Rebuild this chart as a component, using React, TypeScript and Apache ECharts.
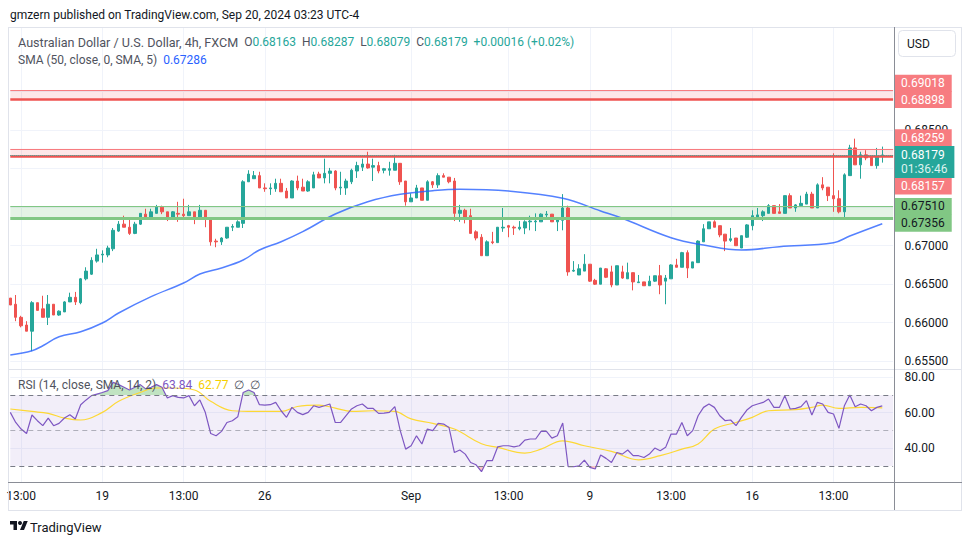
import React, { useEffect, useRef } from "react";
import * as echarts from "echarts";

// ---------- data ----------
const opens = [
  0.6632, 0.6624, 0.6607, 0.6597, 0.6589, 0.6626, 0.6618, 0.6607, 0.6624, 0.6610,
  0.6614, 0.6627, 0.6633, 0.6626, 0.6657, 0.6663, 0.6680, 0.6688, 0.6688, 0.6696,
  0.6719, 0.6728, 0.6724, 0.6716, 0.6728, 0.6741, 0.6736, 0.6742, 0.6750, 0.6744,
  0.6736, 0.6742, 0.6741, 0.6739, 0.6744, 0.6735, 0.6746, 0.6735, 0.6706, 0.6705,
  0.6710, 0.6724, 0.6724, 0.6729, 0.6783, 0.6787, 0.6791, 0.6775, 0.6774, 0.6774,
  0.6781, 0.6771, 0.6762, 0.6784, 0.6776, 0.6771, 0.6775, 0.6793, 0.6788, 0.6794,
  0.6797, 0.6775, 0.6775, 0.6783, 0.6797, 0.6802, 0.6806, 0.6802, 0.6804, 0.6798,
  0.6798, 0.6798, 0.6807, 0.6784, 0.6757, 0.6762, 0.6775, 0.6759, 0.6783, 0.6779,
  0.6791, 0.6789, 0.6784, 0.6742, 0.6746, 0.6739, 0.6718, 0.6711, 0.6687, 0.6705,
  0.6704, 0.6723, 0.6726, 0.6724, 0.6722, 0.6723, 0.6731, 0.6731, 0.6731, 0.6740,
  0.6741, 0.6731, 0.6733, 0.6749, 0.6667, 0.6662, 0.6667, 0.6676, 0.6655, 0.6650,
  0.6670, 0.6666, 0.6649, 0.6666, 0.6657, 0.6665, 0.6652, 0.6653, 0.6648, 0.6654,
  0.6661, 0.6654, 0.6657, 0.6675, 0.6672, 0.6691, 0.6671, 0.6678, 0.6705, 0.6722,
  0.6731, 0.6726, 0.6715, 0.6707, 0.6710, 0.6697, 0.6711, 0.6726, 0.6737, 0.6739,
  0.6742, 0.6752, 0.6744, 0.6742, 0.6765, 0.6749, 0.6752, 0.6754, 0.6767, 0.6749,
  0.6779, 0.6776, 0.6765, 0.6761, 0.6744, 0.6791, 0.6827, 0.6805, 0.6818, 0.6815,
  0.6804, 0.68163,
];
const closes = [
  0.6623, 0.6607, 0.6596, 0.6589, 0.6626, 0.6616, 0.6607, 0.6624, 0.6610, 0.6615,
  0.6627, 0.6633, 0.6627, 0.6657, 0.6667, 0.6681, 0.6688, 0.6689, 0.6697, 0.6720,
  0.6728, 0.6724, 0.6716, 0.6728, 0.6742, 0.6736, 0.6744, 0.6750, 0.6744, 0.6736,
  0.6744, 0.6741, 0.6739, 0.6744, 0.6735, 0.6746, 0.6735, 0.6705, 0.6705, 0.6710,
  0.6724, 0.6725, 0.6731, 0.6783, 0.6793, 0.6791, 0.6775, 0.6774, 0.6775, 0.6781,
  0.6770, 0.6762, 0.6784, 0.6775, 0.6771, 0.6783, 0.6792, 0.6788, 0.6794, 0.6797,
  0.6775, 0.6776, 0.6784, 0.6798, 0.6804, 0.6806, 0.6801, 0.6804, 0.6797, 0.6800,
  0.6800, 0.6807, 0.6783, 0.6757, 0.6762, 0.6775, 0.6759, 0.6783, 0.6779, 0.6791,
  0.6789, 0.6783, 0.6742, 0.6746, 0.6737, 0.6716, 0.6710, 0.6687, 0.6705, 0.6704,
  0.6724, 0.6724, 0.6724, 0.6723, 0.6724, 0.6731, 0.6732, 0.6732, 0.6741, 0.6741,
  0.6731, 0.6736, 0.6749, 0.6666, 0.6668, 0.6670, 0.6676, 0.6654, 0.6650, 0.6671,
  0.6659, 0.6649, 0.6674, 0.6658, 0.6665, 0.6653, 0.6653, 0.6648, 0.6654, 0.6661,
  0.6649, 0.6658, 0.6675, 0.6672, 0.6691, 0.6671, 0.6679, 0.6706, 0.6722, 0.6731,
  0.6724, 0.6714, 0.6706, 0.6709, 0.6700, 0.6713, 0.6727, 0.6739, 0.6740, 0.6744,
  0.6752, 0.6742, 0.6742, 0.6765, 0.6749, 0.6753, 0.6755, 0.6767, 0.6749, 0.6779,
  0.6775, 0.6765, 0.6761, 0.6744, 0.6792, 0.6827, 0.6805, 0.6818, 0.6814, 0.6804,
  0.6816, 0.68179,
];
const lows = [
  0.6623, 0.6602, 0.6594, 0.6589, 0.6563, 0.6616, 0.6607, 0.6597, 0.6610, 0.6609,
  0.6614, 0.6627, 0.6623, 0.6624, 0.6655, 0.6662, 0.6678, 0.6678, 0.6685, 0.6693,
  0.6718, 0.6724, 0.6714, 0.6715, 0.6727, 0.6736, 0.6735, 0.6742, 0.6741, 0.6732,
  0.6735, 0.6731, 0.6737, 0.6739, 0.6728, 0.6735, 0.6724, 0.6700, 0.6698, 0.6701,
  0.6709, 0.6719, 0.6724, 0.6723, 0.6783, 0.6787, 0.6775, 0.6770, 0.6766, 0.6770,
  0.6770, 0.6762, 0.6762, 0.6772, 0.6771, 0.6770, 0.6775, 0.6788, 0.6781, 0.6781,
  0.6772, 0.6766, 0.6766, 0.6780, 0.6788, 0.6797, 0.6800, 0.6784, 0.6794, 0.6794,
  0.6791, 0.6798, 0.6779, 0.6752, 0.6757, 0.6762, 0.6759, 0.6759, 0.6775, 0.6775,
  0.6789, 0.6781, 0.6732, 0.6731, 0.6729, 0.6716, 0.6707, 0.6687, 0.6687, 0.6702,
  0.6704, 0.6718, 0.6711, 0.6714, 0.6720, 0.6715, 0.6720, 0.6719, 0.6731, 0.6736,
  0.6731, 0.6719, 0.6720, 0.6661, 0.6666, 0.6662, 0.6667, 0.6653, 0.6649, 0.6650,
  0.6658, 0.6646, 0.6649, 0.6657, 0.6657, 0.6642, 0.6652, 0.6648, 0.6648, 0.6653,
  0.6637, 0.6624, 0.6657, 0.6672, 0.6672, 0.6658, 0.6671, 0.6678, 0.6705, 0.6722,
  0.6724, 0.6711, 0.6693, 0.6705, 0.6700, 0.6697, 0.6710, 0.6720, 0.6736, 0.6732,
  0.6742, 0.6742, 0.6742, 0.6742, 0.6749, 0.6744, 0.6752, 0.6754, 0.6749, 0.6749,
  0.6772, 0.6758, 0.6744, 0.6742, 0.6737, 0.6791, 0.6805, 0.6787, 0.6811, 0.6804,
  0.6800, 0.68079,
];
const highs = [
  0.6632, 0.6636, 0.6609, 0.6602, 0.6628, 0.6626, 0.6635, 0.6636, 0.6624, 0.6616,
  0.6628, 0.6639, 0.6640, 0.6658, 0.6672, 0.6685, 0.6696, 0.6694, 0.6700, 0.6723,
  0.6732, 0.6739, 0.6736, 0.6731, 0.6742, 0.6748, 0.6748, 0.6753, 0.6752, 0.6744,
  0.6745, 0.6757, 0.6761, 0.6753, 0.6744, 0.6753, 0.6746, 0.6735, 0.6709, 0.6711,
  0.6724, 0.6728, 0.6733, 0.6785, 0.6798, 0.6797, 0.6796, 0.6781, 0.6781, 0.6787,
  0.6787, 0.6775, 0.6785, 0.6791, 0.6787, 0.6785, 0.6796, 0.6796, 0.6813, 0.6801,
  0.6798, 0.6796, 0.6787, 0.6800, 0.6809, 0.6813, 0.6822, 0.6813, 0.6809, 0.6801,
  0.6809, 0.6818, 0.6807, 0.6784, 0.6768, 0.6779, 0.6775, 0.6785, 0.6784, 0.6794,
  0.6794, 0.6789, 0.6788, 0.6753, 0.6748, 0.6748, 0.6720, 0.6715, 0.6707, 0.6718,
  0.6724, 0.6749, 0.6727, 0.6726, 0.6732, 0.6733, 0.6739, 0.6742, 0.6742, 0.6745,
  0.6741, 0.6737, 0.6767, 0.6752, 0.6680, 0.6676, 0.6689, 0.6676, 0.6657, 0.6671,
  0.6671, 0.6674, 0.6674, 0.6674, 0.6678, 0.6665, 0.6662, 0.6653, 0.6661, 0.6661,
  0.6675, 0.6662, 0.6676, 0.6683, 0.6692, 0.6694, 0.6679, 0.6707, 0.6728, 0.6731,
  0.6733, 0.6726, 0.6715, 0.6723, 0.6710, 0.6713, 0.6728, 0.6746, 0.6749, 0.6746,
  0.6754, 0.6752, 0.6754, 0.6765, 0.6768, 0.6754, 0.6765, 0.6770, 0.6770, 0.6781,
  0.6789, 0.6776, 0.6820, 0.6772, 0.6794, 0.6831, 0.6839, 0.6822, 0.6824, 0.6816,
  0.6827, 0.68287,
];
const rsi = [
  60.2, 54.5, 50.8, 48.3, 58.7, 55.5, 52.7, 57.0, 52.7, 54.0,
  57.0, 58.9, 56.5, 64.5, 67.2, 69.6, 70.5, 71.4, 72.4, 77.1,
  75.8, 74.3, 72.8, 74.3, 75.8, 73.4, 74.3, 75.8, 74.3, 68.3,
  69.6, 68.6, 68.3, 69.6, 63.9, 67.2, 60.2, 48.3, 47.0, 49.5,
  54.5, 55.5, 57.7, 71.4, 72.8, 71.4, 64.5, 64.3, 64.5, 65.8,
  61.1, 57.4, 63.0, 60.2, 58.9, 60.2, 63.9, 63.0, 63.9, 64.9,
  54.5, 54.5, 58.3, 62.1, 63.9, 64.9, 62.4, 62.4, 59.6, 59.8,
  60.2, 63.4, 49.9, 39.5, 41.4, 47.0, 42.4, 50.8, 49.9, 54.0,
  53.6, 51.7, 37.6, 39.0, 36.7, 32.0, 30.7, 26.8, 33.0, 33.0,
  40.8, 41.4, 41.4, 40.8, 41.4, 44.6, 45.2, 45.2, 49.5, 49.5,
  45.7, 47.0, 54.2, 29.6, 29.6, 30.1, 33.3, 29.2, 28.3, 36.2,
  34.3, 32.0, 37.6, 36.7, 39.0, 35.8, 35.8, 34.8, 36.7, 40.1,
  38.6, 40.5, 48.0, 48.0, 54.5, 47.0, 49.9, 58.3, 63.0, 64.9,
  63.0, 58.3, 55.5, 55.9, 52.7, 57.4, 61.5, 63.9, 64.9, 65.8,
  67.7, 63.0, 63.0, 69.6, 62.1, 62.4, 63.4, 66.8, 58.7, 65.8,
  64.9, 60.2, 59.3, 51.2, 63.9, 70.0, 63.4, 64.9, 63.9, 61.1,
  63.0, 63.84,
];
// SMA(50) read at sample bars
const smaIdx = [0, 4, 6, 9, 13, 17, 20, 26, 32, 35, 39, 43, 46, 50, 54, 60, 66, 72, 78, 83, 92, 102, 109, 113, 122, 128, 135, 142, 152, 155, 161];
const smaVal = [0.65581, 0.65636, 0.65701, 0.65818, 0.65883, 0.65996, 0.66126, 0.66338, 0.66516, 0.66632, 0.6671, 0.66814, 0.66944, 0.67052, 0.67182, 0.67412, 0.67571, 0.67668, 0.67714, 0.67732, 0.6771, 0.67616, 0.67451, 0.67356, 0.67104, 0.67009, 0.66944, 0.66987, 0.67039, 0.67126, 0.67286];
// RSI-based MA read at sample bars
const rsiMaIdx = [0, 4, 7, 10, 13, 17, 20, 24, 27, 30, 34, 37, 41, 45, 50, 53, 57, 60, 63, 67, 71, 74, 78, 82, 87, 90, 95, 98, 102, 106, 111, 116, 120, 124, 127, 130, 134, 137, 140, 145, 148, 150, 153, 157, 161];
const rsiMaVal = [62.1, 60.7, 59.6, 57.0, 55.9, 60.2, 66.4, 71.4, 73.9, 73.9, 72.8, 66.4, 61.1, 60.7, 60.7, 63.5, 64.3, 62.6, 60.7, 61.1, 60.7, 56.5, 54.0, 50.8, 42.5, 40.5, 37.3, 39.5, 44.2, 41.4, 38.2, 33.5, 35.8, 39.5, 42.4, 50.8, 54.5, 57.4, 61.1, 61.7, 63.0, 64.3, 62.4, 63.0, 62.77];

const xLabelIdx = [2, 17, 32, 47, 74, 92, 107, 122, 137, 152];
const xLabelText = ["13:00", "19", "13:00", "26", "Sep", "13:00", "9", "13:00", "16", "13:00"];
const priceGridTicks = [0.655, 0.66, 0.665, 0.67, 0.675, 0.68, 0.685, 0.69];
const priceLabelTicks = [0.655, 0.66, 0.665, 0.67, 0.685];
const rsiTicks = [40, 60, 80];

const zoneRedTop = [0.69018, 0.68898];
const zoneRedMid = [0.68259, 0.68157];
const zoneGreen = [0.6751, 0.67356];
const lastPrice = 0.68179;
const countdown = "01:36:46";
const rsiLevels = [70, 50, 30];

const headerText = "gmzern published on TradingView.com, Sep 20, 2024 03:23 UTC-4";
const symbolTitle = "Australian Dollar / U.S. Dollar, 4h, FXCM";
const ohlcText = { O: "0.68163", H: "0.68287", L: "0.68079", C: "0.68179", chg: "+0.00016 (+0.02%)" };
const smaTitle = "SMA (50, close, 0, SMA, 5)";
const smaLast = "0.67286";
const rsiTitle = "RSI (14, close, SMA, 14, 2)";
const rsiLast = "63.84";
const rsiMaLast = "62.77";

const N_SLOTS = 164;

const UP = "#26A69A";
const DOWN = "#EF5350";
const FONT = "Roboto, 'Noto Sans', sans-serif";

export default function App() {
  const ref = useRef<HTMLDivElement>(null);
  useEffect(() => {
    if (!ref.current) return;
    try {
      echarts.graphic.registerShape(
        "tvlogo",
        echarts.graphic.extendPath("M14 22H7V11H0V4h14v18zM28 22h-8l7.5-18h8L28 22z", {})
      );
    } catch (e) {}
    const chart = echarts.init(ref.current, null, { renderer: "svg" });

    const cats = Array.from({ length: N_SLOTS }, (_, i) => String(i));
    const candles = opens.map((o, i) => [o, closes[i], lows[i], highs[i]]);
    const sma = smaIdx.map((x, i) => [x, smaVal[i]]);
    const rsiMa = rsiMaIdx.map((x, i) => [x, rsiMaVal[i]]);

    const tagLabel = (text: string, bg: string, fg: string, dy: number) => ({
      show: true,
      position: "end",
      distance: 1,
      offset: [0, dy],
      formatter: text,
      backgroundColor: bg,
      color: fg,
      padding: [2, 7, 2, 7],
      lineHeight: 13,
      fontSize: 12,
      fontFamily: FONT,
    });

    const isLabelIdx = (i: number) => xLabelIdx.indexOf(i) >= 0;

    const option: any = {
      animation: false,
      backgroundColor: "#ffffff",
      textStyle: { fontFamily: FONT },
      grid: [
        { left: 10.3, top: 28, width: 882.8, height: 341 },
        { left: 10.3, top: 369, width: 882.8, height: 113 },
      ],
      xAxis: [
        {
          type: "category", gridIndex: 0, data: cats, boundaryGap: false,
          axisLine: { show: false }, axisTick: { show: false }, axisLabel: { show: false },
          splitLine: { show: true, interval: (i: number) => isLabelIdx(i), lineStyle: { color: "#F0F3FA", width: 1 } },
        },
        {
          type: "category", gridIndex: 1, data: cats, boundaryGap: false,
          axisLine: { show: false }, axisTick: { show: false },
          axisLabel: {
            show: true, interval: (i: number) => isLabelIdx(i),
            formatter: (_v: string, i: number) => xLabelText[xLabelIdx.indexOf(i)] ?? "",
            color: "#131722", fontSize: 12, margin: 8, fontFamily: FONT,
          },
          splitLine: { show: true, interval: (i: number) => isLabelIdx(i), lineStyle: { color: "#F0F3FA", width: 1 } },
        },
      ],
      yAxis: [
        {
          type: "value", gridIndex: 0, position: "right", min: 0.65399, max: 0.69827, scale: true,
          axisLine: { show: false }, axisTick: { show: false, customValues: priceGridTicks },
          axisLabel: { customValues: priceLabelTicks, formatter: (v: number) => v.toFixed(5), color: "#131722", fontSize: 12, margin: 11.5, fontFamily: FONT },
          splitLine: { show: true, lineStyle: { color: "#F0F3FA", width: 1 } },
        },
        {
          type: "value", gridIndex: 1, position: "right", min: 21.0, max: 84.6,
          axisLine: { show: false }, axisTick: { show: false, customValues: rsiTicks },
          axisLabel: { customValues: rsiTicks, formatter: (v: number) => v.toFixed(2), color: "#131722", fontSize: 12, margin: 11.5, fontFamily: FONT },
          splitLine: { show: true, lineStyle: { color: "#F0F3FA", width: 1 } },
        },
      ],
      visualMap: [
        {
          type: "piecewise", show: false, seriesIndex: 2, dimension: 1,
          pieces: [{ gt: 70, lte: 100, color: "rgba(76,175,80,0.35)" }, { gte: 0, lte: 70, color: "rgba(76,175,80,0)" }],
          outOfRange: { color: "rgba(0,0,0,0)" },
        },
        {
          type: "piecewise", show: false, seriesIndex: 3, dimension: 1,
          pieces: [{ gte: 0, lt: 30, color: "rgba(242,54,69,0.3)" }, { gte: 30, lte: 100, color: "rgba(242,54,69,0)" }],
          outOfRange: { color: "rgba(0,0,0,0)" },
        },
      ],
      series: [
        {
          type: "candlestick", xAxisIndex: 0, yAxisIndex: 0, data: candles,
          barWidth: 3, clip: true,
          itemStyle: { color: UP, color0: DOWN, borderColor: UP, borderColor0: DOWN, borderWidth: 1 },
          markArea: {
            silent: true,
            data: [
              [{ yAxis: zoneRedTop[0], itemStyle: { color: "rgba(242,54,69,0.12)" } }, { yAxis: zoneRedTop[1] }],
              [{ yAxis: zoneRedMid[0], itemStyle: { color: "rgba(242,54,69,0.12)" } }, { yAxis: zoneRedMid[1] }],
              [{ yAxis: zoneGreen[0], itemStyle: { color: "rgba(76,175,80,0.15)" } }, { yAxis: zoneGreen[1] }],
            ],
          },
          markLine: {
            silent: true, symbol: ["none", "none"], animation: false, precision: 5,
            data: [
              { yAxis: zoneRedTop[0], lineStyle: { color: "#F77C80", width: 1, type: "solid" }, label: tagLabel(zoneRedTop[0].toFixed(5), "#F77C80", "#ffffff", -7) },
              { yAxis: zoneRedTop[1], lineStyle: { color: "#EF5350", width: 2.5, type: "solid" }, label: tagLabel(zoneRedTop[1].toFixed(5), "#F77C80", "#ffffff", 0) },
              { yAxis: zoneRedMid[0], lineStyle: { color: "#F77C80", width: 1, type: "solid" }, label: tagLabel(zoneRedMid[0].toFixed(5), "#F77C80", "#ffffff", -11) },
              { yAxis: zoneRedMid[1], lineStyle: { color: "#EF5350", width: 2.5, type: "solid" }, label: tagLabel(zoneRedMid[1].toFixed(5), "#F77C80", "#ffffff", 29.5) },
              { yAxis: zoneGreen[0], lineStyle: { color: "#81C784", width: 1, type: "solid" }, label: tagLabel(zoneGreen[0].toFixed(5), "#81C784", "#131722", 0) },
              { yAxis: zoneGreen[1], lineStyle: { color: "#81C784", width: 3, type: "solid" }, label: tagLabel(zoneGreen[1].toFixed(5), "#81C784", "#131722", 5) },
              {
                yAxis: lastPrice, lineStyle: { color: UP, width: 1, type: "dotted" },
                label: {
                  show: true, position: "end", distance: 1, offset: [0, 7],
                  formatter: "{a|" + lastPrice.toFixed(5) + "}\n{b|" + countdown + "}",
                  backgroundColor: UP, padding: [2, 7, 2, 7],
                  rich: {
                    a: { color: "#ffffff", fontSize: 12, lineHeight: 14, fontFamily: FONT },
                    b: { color: "#DDF3EF", fontSize: 12, lineHeight: 14, fontFamily: FONT },
                  },
                },
              },
            ],
          },
        },
        {
          type: "line", xAxisIndex: 0, yAxisIndex: 0, data: sma, smooth: 0.4, symbol: "none",
          lineStyle: { color: "#2962FF", width: 1.5, opacity: 0.8 }, z: 3,
        },
        {
          type: "line", xAxisIndex: 1, yAxisIndex: 1, data: rsi, symbol: "none",
          lineStyle: { width: 0, opacity: 0 }, areaStyle: { origin: 70, opacity: 1 }, z: 1,
        },
        {
          type: "line", xAxisIndex: 1, yAxisIndex: 1, data: rsi, symbol: "none",
          lineStyle: { width: 0, opacity: 0 }, areaStyle: { origin: 30, opacity: 1 }, z: 1,
        },
        {
          type: "line", xAxisIndex: 1, yAxisIndex: 1, data: rsi, symbol: "none",
          lineStyle: { color: "#7E57C2", width: 1.2 }, z: 4,
          markArea: {
            silent: true,
            data: [[{ yAxis: rsiLevels[0], itemStyle: { color: "rgba(126,87,194,0.1)" } }, { yAxis: rsiLevels[2] }]],
          },
          markLine: {
            silent: true, symbol: ["none", "none"], label: { show: false }, precision: 2,
            data: [
              { yAxis: rsiLevels[0], lineStyle: { color: "#787B86", width: 1, type: [5, 4] } },
              { yAxis: rsiLevels[1], lineStyle: { color: "rgba(120,123,134,0.55)", width: 1, type: [5, 4] } },
              { yAxis: rsiLevels[2], lineStyle: { color: "#787B86", width: 1, type: [5, 4] } },
            ],
          },
        },
        {
          type: "line", xAxisIndex: 1, yAxisIndex: 1, data: rsiMa, smooth: 0.4, symbol: "none",
          lineStyle: { color: "#FDD835", width: 1.2 }, z: 3,
        },
      ],
      graphic: [
        // frame
        { type: "line", z: 50, shape: { x1: 8, y1: 27.5, x2: 962, y2: 27.5 }, style: { stroke: "#E0E3EB", lineWidth: 1 } },
        { type: "line", z: 50, shape: { x1: 8.5, y1: 27, x2: 8.5, y2: 510 }, style: { stroke: "#E0E3EB", lineWidth: 1 } },
        { type: "line", z: 50, shape: { x1: 961.5, y1: 27, x2: 961.5, y2: 510 }, style: { stroke: "#E0E3EB", lineWidth: 1 } },
        { type: "line", z: 50, shape: { x1: 8, y1: 510.5, x2: 962, y2: 510.5 }, style: { stroke: "#E0E3EB", lineWidth: 1 } },
        { type: "line", z: 50, shape: { x1: 8, y1: 369.5, x2: 962, y2: 369.5 }, style: { stroke: "#E0E3EB", lineWidth: 1 } },
        { type: "line", z: 50, shape: { x1: 8, y1: 482.5, x2: 962, y2: 482.5 }, style: { stroke: "#8A8D96", lineWidth: 1 } },
        { type: "line", z: 50, shape: { x1: 894.5, y1: 27, x2: 894.5, y2: 510 }, style: { stroke: "#8A8D96", lineWidth: 1 } },
        // USD button
        { type: "rect", z: 50, shape: { x: 898.5, y: 30.5, width: 57, height: 26, r: 4 }, style: { fill: "#ffffff", stroke: "#E0E3EB", lineWidth: 1 } },
        { type: "text", z: 51, x: 907, y: 44, style: { text: "USD", font: "12px " + FONT, fill: "#131722", verticalAlign: "middle" } },
        // header
        { type: "text", z: 51, x: 10, y: 14.5, style: { text: headerText, font: "12px " + FONT, fill: "#131722", verticalAlign: "middle" } },
        {
          type: "text", z: 51, x: 18, y: 42,
          style: {
            text: "{t|" + symbolTitle + "}  {g|O}{v|" + ohlcText.O + "}  {g|H}{v|" + ohlcText.H + "}  {g|L}{v|" + ohlcText.L + "}  {g|C}{v|" + ohlcText.C + "}  {v|" + ohlcText.chg + "}",
            font: "12px " + FONT, verticalAlign: "middle",
            rich: {
              t: { fill: "#50535E", font: "12.6px " + FONT },
              g: { fill: "#50535E", font: "12px " + FONT },
              v: { fill: UP, font: "12px " + FONT },
            },
          },
        },
        {
          type: "text", z: 51, x: 18, y: 59.5,
          style: {
            text: "{g|" + smaTitle + "}  {b|" + smaLast + "}",
            font: "12px " + FONT, verticalAlign: "middle",
            rich: { g: { fill: "#50535E", font: "12px " + FONT }, b: { fill: "#2962FF", font: "12px " + FONT } },
          },
        },
        {
          type: "text", z: 51, x: 18, y: 385,
          style: {
            text: "{g|" + rsiTitle + "}  {p|" + rsiLast + "}  {y|" + rsiMaLast + "}  {g|∅  ∅}",
            font: "12px " + FONT, verticalAlign: "middle",
            rich: {
              g: { fill: "#50535E", font: "12px " + FONT },
              p: { fill: "#7E57C2", font: "12px " + FONT },
              y: { fill: "#F5D000", font: "12px " + FONT },
            },
          },
        },
        // logo
        { type: "tvlogo", z: 51, x: 10, y: 519, scaleX: 0.5, scaleY: 0.5, style: { fill: "#131722" } },
        { type: "circle", z: 51, shape: { cx: 20, cy: 523, r: 2 }, style: { fill: "#131722" } },
        { type: "text", z: 51, x: 30, y: 527, style: { text: "TradingView", font: "13px " + FONT, fill: "#131722", verticalAlign: "middle" } },
      ],
    };

    chart.setOption(option);
    return () => chart.dispose();
  }, []);
  return <div ref={ref} style={{ position: "fixed", left: 0, top: 0, width: 970, height: 545, background: "#fff" }} />;
}
